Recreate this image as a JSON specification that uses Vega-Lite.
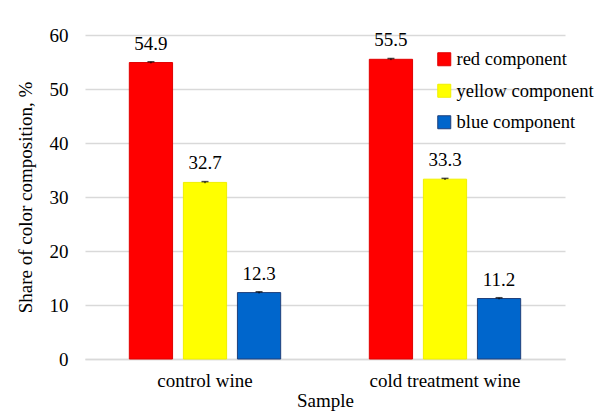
{
  "$schema": "https://vega.github.io/schema/vega-lite/v6.json",
  "width": 480,
  "height": 324,
  "autosize": {"type": "none"},
  "padding": {"left": 85, "top": 35, "right": 29, "bottom": 60},
  "background": "white",
  "config": {
    "font": "Liberation Serif",
    "view": {"stroke": null},
    "text": {"font": "Liberation Serif"},
    "axis": {"labelFont": "Liberation Serif", "titleFont": "Liberation Serif", "labelColor": "#000", "titleColor": "#000", "titleFontWeight": "normal"},
    "legend": {"labelFont": "Liberation Serif", "titleFont": "Liberation Serif", "labelColor": "#000"}
  },
  "data": {
    "values": [
      {"sample": "control wine", "component": "red component", "value": 54.9, "err": 0.15},
      {"sample": "control wine", "component": "yellow component", "value": 32.7, "err": 0.15},
      {"sample": "control wine", "component": "blue component", "value": 12.3, "err": 0.15},
      {"sample": "cold treatment wine", "component": "red component", "value": 55.5, "err": 0.15},
      {"sample": "cold treatment wine", "component": "yellow component", "value": 33.3, "err": 0.15},
      {"sample": "cold treatment wine", "component": "blue component", "value": 11.2, "err": 0.15}
    ]
  },
  "transform": [
    {"calculate": "datum.value - datum.err", "as": "lo"},
    {"calculate": "datum.value + datum.err", "as": "hi"}
  ],
  "encoding": {
    "x": {
      "field": "sample", "type": "nominal",
      "sort": ["control wine", "cold treatment wine"],
      "scale": {"paddingInner": 0, "paddingOuter": 0},
      "axis": {"title": "Sample", "labelAngle": 0, "labelFontSize": 19, "titleFontSize": 19, "ticks": false, "domain": true, "domainColor": "#d9d9d9", "domainWidth": 1.5, "labelPadding": 12, "titlePadding": 1}
    },
    "xOffset": {
      "field": "component", "type": "nominal",
      "sort": ["red component", "yellow component", "blue component"],
      "scale": {"paddingInner": 0.2, "paddingOuter": 0.82}
    }
  },
  "layer": [
    {
      "mark": {"type": "bar", "strokeWidth": 1},
      "encoding": {
        "y": {
          "field": "value", "type": "quantitative",
          "scale": {"domain": [0, 60]},
          "axis": {"title": "Share of color composition, %", "values": [0, 10, 20, 30, 40, 50, 60], "labelOverlap": false, "labelFontSize": 19, "titleFontSize": 19, "ticks": false, "domain": false, "gridColor": "#d9d9d9", "gridWidth": 1.5, "labelPadding": 17, "titlePadding": 14}
        },
        "color": {
          "field": "component", "type": "nominal",
          "sort": ["red component", "yellow component", "blue component"],
          "scale": {"domain": ["red component", "yellow component", "blue component"], "range": ["#ff0000", "#ffff00", "#0066cc"]},
          "legend": {
            "title": null, "orient": "none", "legendX": 350, "legendY": 15,
            "symbolType": "square", "symbolSize": 169, "symbolStrokeWidth": 1,
            "labelFont": "Liberation Serif",
            "labelFontSize": 18.5, "rowPadding": 12.5, "labelOffset": 3
          }
        },
        "stroke": {
          "field": "component", "type": "nominal",
          "scale": {"domain": ["red component", "yellow component", "blue component"], "range": ["#e00000", "#f0f000", "#1f3f7a"]},
          "legend": null
        }
      }
    },
    {
      "mark": {"type": "rule", "color": "#000", "strokeWidth": 1},
      "encoding": {
        "y": {"field": "lo", "type": "quantitative"},
        "y2": {"field": "hi"}
      }
    },
    {
      "mark": {"type": "tick", "color": "#000", "thickness": 1.5, "size": 7},
      "encoding": {
        "y": {"field": "hi", "type": "quantitative"}
      }
    },
    {
      "mark": {"type": "text", "font": "Liberation Serif", "fontSize": 19, "dy": -19, "color": "#000"},
      "encoding": {
        "y": {"field": "value", "type": "quantitative"},
        "text": {"field": "value", "type": "quantitative", "format": ".1f"}
      }
    }
  ]
}
